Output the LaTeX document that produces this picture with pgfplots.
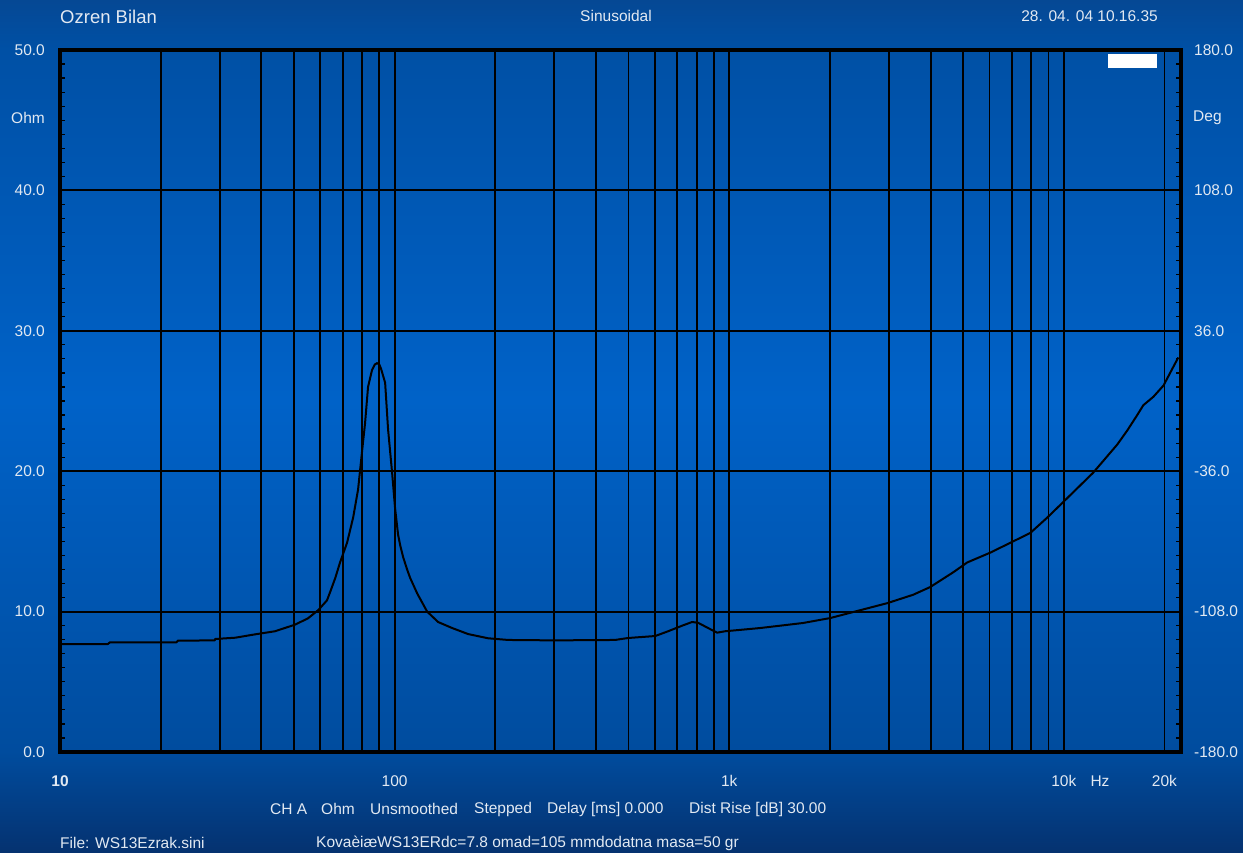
\documentclass[border=0pt]{standalone}
\usepackage{pgfplots}
\pgfplotsset{compat=1.18}
\usepackage{fontspec}
\setmainfont{Liberation Sans}
\definecolor{c0}{RGB}{5,50,112}
\definecolor{c1}{RGB}{0,76,158}
\definecolor{c2}{RGB}{0,98,200}
\definecolor{c3}{RGB}{0,80,165}
\definecolor{c4}{RGB}{5,72,148}
\definecolor{txt}{RGB}{226,233,242}
\pgfdeclareverticalshading{bgshade}{100bp}{color(0bp)=(c0); color(25bp)=(c0); color(30.9bp)=(c1); color(51.5bp)=(c2); color(72.1bp)=(c3); color(75bp)=(c4); color(100bp)=(c4)}
\newcommand{\tf}{\fontsize{15.5}{18}\selectfont}
\begin{document}
\begin{tikzpicture}
\path[shading=bgshade] (-60pt,-100pt) rectangle (1183pt,752pt);
\begin{axis}[
  at={(0pt,0pt)}, anchor=south west,
  scale only axis, width=1121pt, height=702pt,
  xmode=log, xmin=10, xmax=22400, ymin=0, ymax=50,
  xtick={10,100,1000,10000,20000},
  xticklabels={\textbf{10},100,1k,10k,20k},
  minor xtick={20,30,40,50,60,70,80,90,200,300,400,500,600,700,800,900,2000,3000,4000,5000,6000,7000,8000,9000},
  ytick={0,10,20,30,40,50},
  yticklabels={0.0,10.0,20.0,30.0,40.0,50.0},
  minor y tick num=9,
  xmajorgrids, xminorgrids, ymajorgrids,
  grid style={black, line width=1.9pt},
  minor grid style={black, line width=1.9pt},
  tick align=inside,
  major tick length=0pt, minor tick length=5pt,
  x tick style={draw=none},
  y tick style={black, line width=1.2pt},
  axis line style={black, line width=3.5pt},
  xticklabel style={font=\tf, text=txt, inner sep=0pt, anchor=north, yshift=-23pt},
  yticklabel style={font=\tf, text=txt, inner sep=0pt, anchor=east, xshift=-15pt},
  clip mode=individual,
]
\addplot[black, line width=2pt, no marks, line join=round] coordinates {
(10,7.69) (13.9,7.69) (14.1,7.81) (22.3,7.81) (22.5,7.93) (29,7.95) (29.1,8.05)
(33.4,8.14) (38.3,8.38) (43.9,8.6) (50.4,9.07) (55.1,9.52) (59.1,10.1) (62.8,10.8)
(64.2,11.4) (66.5,12.4) (68.7,13.5) (72.1,14.9) (75.2,16.7) (77.8,18.7) (80.5,22.1)
(81.6,23.4) (83.3,26.0) (85.6,27.2) (87.3,27.6) (88.7,27.7) (90.0,27.6) (91.1,27.3)
(93.7,26.3) (95.6,23.0) (98.3,19.9) (100.3,17.4) (102.4,15.5) (104.0,14.7) (106.0,13.9)
(109.0,13.0) (111.3,12.4) (116.8,11.3) (125.1,10.0) (134.9,9.26) (148.6,8.83) (165.9,8.4)
(190.3,8.1) (218.4,7.98) (300,7.95) (456,7.98) (499,8.12) (601,8.26) (657,8.6)
(724,9.0) (775,9.26) (808,9.2) (865,8.83) (920,8.5) (973,8.6) (1238,8.83) (1664,9.19)
(2004,9.54) (2464,10.1) (2967,10.6) (3548,11.2) (3990,11.75) (4674,12.8) (5146,13.5)
(6031,14.2) (6921,14.9) (7943,15.6) (8930,16.7) (9960,17.8) (12250,19.9) (14450,21.9)
(15480,22.9) (16580,24.0) (17290,24.7) (18530,25.3) (19860,26.1) (21990,28.1)
};
\end{axis}
\begin{axis}[
  at={(0pt,0pt)}, anchor=south west,
  scale only axis, width=1121pt, height=702pt,
  xmode=log, xmin=10, xmax=22400, ymin=-180, ymax=180,
  hide x axis, axis y line*=right,
  axis line style={draw=none},
  ytick={-180,-108,-36,36,108,180},
  yticklabels={-180.0,-108.0,-36.0,36.0,108.0,180.0},
  major tick length=0pt, minor tick num=0,
  yticklabel style={font=\tf, text=txt, inner sep=0pt, anchor=west, xshift=13pt},
]
\addplot[draw=none] coordinates {(10,0)};
\end{axis}
\fill[white] (1048pt,684pt) rectangle (1097pt,698pt);
\begin{scope}[every node/.style={text=txt, inner sep=0pt, font=\tf}]
\node[anchor=west, font=\fontsize{18.5}{21}\selectfont] at (0pt,735pt) {Ozren Bilan};
\node at (556pt,736pt) {Sinusoidal};
\node[anchor=east] at (1098pt,736pt) {28. 04. 04 10.16.35};
\node[anchor=east] at (-15pt,634pt) {Ohm};
\node[anchor=west] at (1133pt,634pt) {Deg};
\node at (1040pt,-29pt) {Hz};
\node[anchor=west] at (210pt,-57pt) {CH A};
\node[anchor=west] at (261pt,-57pt) {Ohm};
\node[anchor=west] at (310pt,-57pt) {Unsmoothed};
\node[anchor=west] at (414pt,-57pt) {Stepped};
\node[anchor=west] at (487pt,-57pt) {Delay [ms] 0.000};
\node[anchor=west] at (629pt,-57pt) {Dist Rise [dB] 30.00};
\node[anchor=west] at (0pt,-91pt) {File: WS13Ezrak.sini};
\node[anchor=west] at (256pt,-91pt) {KovaèiæWS13ERdc=7.8 omad=105 mmdodatna masa=50 gr};
\end{scope}
\pgfresetboundingbox
\useasboundingbox (-60pt,-100pt) rectangle (1183pt,752pt);
\end{tikzpicture}
\end{document}
